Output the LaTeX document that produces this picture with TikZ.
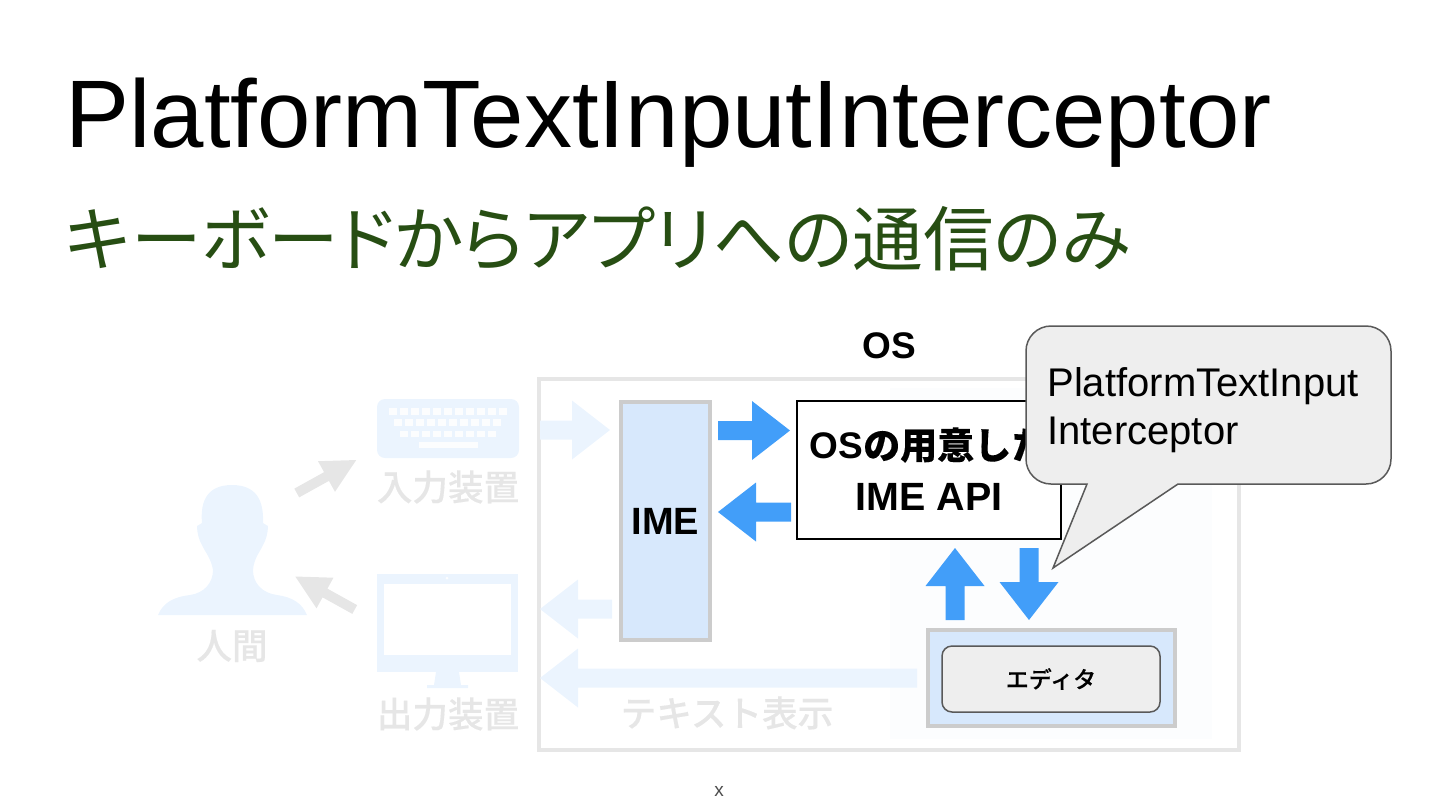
\documentclass[tikz,border=0pt]{standalone}
\usepackage{fontspec}
\setmainfont{Liberation Sans}
\newfontfamily\jpfont[RawFeature=+palt]{Noto Sans CJK JP}
\newfontfamily\jpmedium[FakeBold=0.25]{Noto Sans CJK JP Medium}
\definecolor{titlegreen}{HTML}{274E13}
\definecolor{arrowblue}{HTML}{429EF9}
\definecolor{fadeblue}{HTML}{EBF4FE}
\definecolor{boxblue}{HTML}{D7E8FC}
\definecolor{boxgray}{HTML}{CCCCCC}
\definecolor{fadegray}{HTML}{E6E6E6}
\definecolor{calloutgray}{HTML}{EEEEEE}
\definecolor{calloutline}{HTML}{595959}
\definecolor{faintbg}{HTML}{FCFDFE}
\tikzset{
  pics/blockarrow/.style={code={
    \fill (-#1/2,-9.5) -- (#1/2-38,-9.5) -- (#1/2-38,-29.5) -- (#1/2,0)
      -- (#1/2-38,29.5) -- (#1/2-38,9.5) -- (-#1/2,9.5) -- cycle;
  }},
  pics/grayarrow/.style={code={
    \fill[fadegray] (-34,-5) -- (0,-5) -- (0,-17.5) -- (34,0)
      -- (0,17.5) -- (0,5) -- (-34,5) -- cycle;
  }},
  blockbox/.style={draw=boxgray, line width=2pt, fill=boxblue, inner sep=0pt},
  fadelabel/.style={text=fadegray, font=\jpmedium\fontsize{17.8}{20}\selectfont, inner sep=0pt},
}
\begin{document}
\begin{tikzpicture}[x=0.5pt, y=-0.5pt]
    \useasboundingbox (0,0) rectangle (1440,810);

    % title
    \node[anchor=base west, inner sep=0pt, font=\fontsize{48}{52}\selectfont] (title) at (65,147) {PlatformTextInputInterceptor};
    \node[inner sep=0pt, text=titlegreen, font=\jpfont\fontsize{35.3}{40}\selectfont] (subtitle) at (598,239) {キーボードからアプリへの通信のみ};

    % person
    \fill[fadeblue] (158,615) .. controls (163,603) and (173,597) .. (190,595)
      .. controls (204,593) and (213,583) .. (213,570)
      .. controls (211,558) and (205,552) .. (202,545)
      .. controls (199,540) and (197,533) .. (197,526) -- (202,523)
      .. controls (200,500) and (208,485) .. (232,485)
      .. controls (256,485) and (264,500) .. (263,523) -- (268,526)
      .. controls (268,533) and (266,540) .. (263,545)
      .. controls (260,552) and (254,558) .. (253,570)
      .. controls (253,583) and (262,593) .. (277,595)
      .. controls (292,597) and (302,603) .. (307,615) -- cycle;
    \node[fadelabel] (human) at (232,646) {人間};

    % keyboard
    \fill[fadeblue, rounded corners=4pt] (377,399) -- (377,458) -- (519,458) -- (519,399) -- cycle;
    \foreach \k in {0,...,10} \fill[faintbg] (389+\k*11,408) rectangle ++(8,7);
    \foreach \k in {0,...,9} \fill[faintbg] (394+\k*11,419) rectangle ++(8,7);
    \foreach \k in {0,...,8} \fill[faintbg] (400+\k*11,431) rectangle ++(8,6);
    \fill[faintbg] (419,442) rectangle (478,448);
    \node[fadelabel] (input) at (448,487) {入力装置};

    % monitor
    \fill[fadeblue] (377,574) rectangle (518,672);
    \fill[white] (384,584) rectangle (511,655);
    \fill[faintbg] (447,578) circle[radius=1.5];
    \fill[fadeblue] (436,672) -- (459,672) -- (461,685) -- (468,685) -- (468,688) -- (427,688) -- (427,685) -- (434,685) -- cycle;
    \node[fadelabel] (output) at (448,714) {出力装置};

    \pic[rotate=29] at (326.5,476.5) {grayarrow};
    \pic[rotate=151] at (325,593) {grayarrow};

    % OS frame
    \fill[faintbg] (890,388) rectangle (1212,739);
    \node[draw=fadegray, line width=2pt, minimum width=350pt, minimum height=185.5pt, inner sep=0pt] (os) at (889,564.5) {};
    \node[font=\bfseries\fontsize{18.5}{20}\selectfont, inner sep=0pt] (oslabel) at (889,346) {OS};

    \node[blockbox, minimum width=44.5pt, minimum height=119pt, font=\bfseries\fontsize{19}{20}\selectfont] (ime) at (665.5,521) {IME};
    \node[draw, line width=1pt, fill=white, minimum width=132pt, minimum height=69pt, inner sep=0pt] (api) at (929,470) {};
    \node[inner sep=0pt, font=\bfseries\fontsize{18.5}{20}\selectfont] (apione) at (929,445) {OS{\jpmedium の用意した}};
    \node[inner sep=0pt, font=\bfseries\fontsize{19.7}{20}\selectfont] (apitwo) at (929,497) {IME API};

    \node[blockbox, minimum width=123.5pt, minimum height=48pt] (editorbox) at (1051.5,678) {};
    \node[draw=calloutline, line width=0.75pt, fill=calloutgray, rounded corners=5pt, minimum width=109pt, minimum height=33pt, inner sep=0pt,
      font=\jpmedium\fontsize{11.5}{14}\selectfont] (editor) at (1051,679) {エディタ};

    % arrows
    \pic[fadeblue] at (575,430) {blockarrow=70};
    \pic[fadeblue, rotate=180] at (576,609) {blockarrow=72};
    \pic[fadeblue, rotate=180] at (728.5,678) {blockarrow=377};
    \node[fadelabel] (textshow) at (727,713) {テキスト表示};
    \pic[arrowblue] at (754,430.5) {blockarrow=72};
    \pic[arrowblue, rotate=180] at (754.5,512) {blockarrow=73};
    \pic[arrowblue, rotate=90] at (955,584) {blockarrow=72};
    \pic[arrowblue, rotate=-90] at (1029,584) {blockarrow=72};

    % callout
    \draw[draw=calloutline, line width=0.75pt, fill=calloutgray] (1051,326) -- (1366,326)
      arc[start angle=-90, end angle=0, radius=25] -- (1391,459)
      arc[start angle=0, end angle=90, radius=25] -- (1178,484) -- (1053,568) -- (1087,484) -- (1051,484)
      arc[start angle=90, end angle=180, radius=25] -- (1026,351)
      arc[start angle=180, end angle=270, radius=25] -- cycle;
    \node[anchor=base west, inner sep=0pt, font=\fontsize{20}{24}\selectfont] (calloutone) at (1047,396) {PlatformTextInput};
    \node[anchor=base west, inner sep=0pt, font=\fontsize{20}{24}\selectfont] (callouttwo) at (1047,444) {Interceptor};

    \node[inner sep=0pt, text=black!70, font=\fontsize{9.5}{10}\selectfont] (mark) at (719,791) {x};
  \end{tikzpicture}
\end{document}
